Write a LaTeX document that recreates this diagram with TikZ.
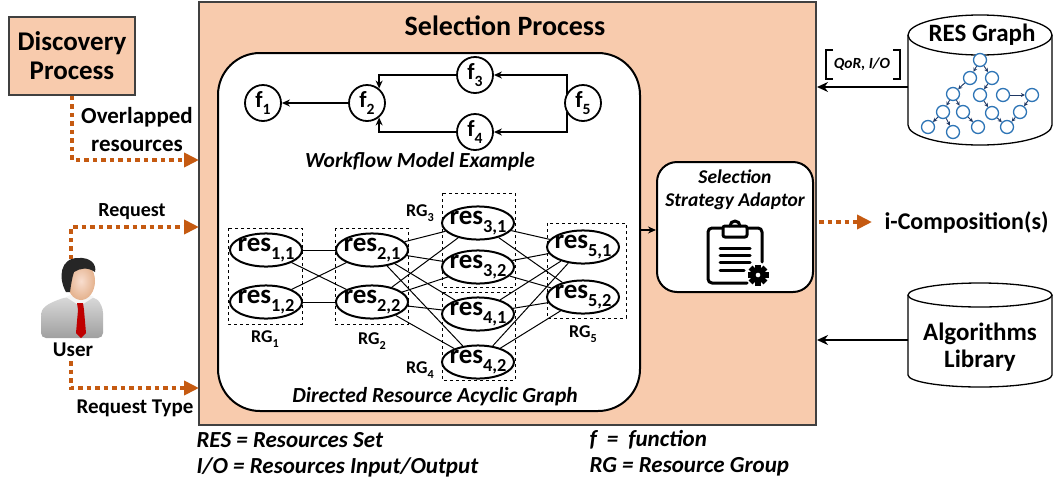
\documentclass[tikz,border=0pt]{standalone}
\usepackage{fontspec}
\setmainfont{Carlito}
\usetikzlibrary{arrows.meta,shapes.geometric}
\definecolor{peach}{HTML}{F8CBAD}
\definecolor{rust}{HTML}{C55A11}
\definecolor{boxline}{HTML}{404040}
\definecolor{netblue}{HTML}{2E75B6}
\definecolor{netdark}{HTML}{1F3864}
\definecolor{skin}{HTML}{F4C7AE}
\pgfdeclarelayer{bg}
\pgfdeclarelayer{mid}
\pgfsetlayers{bg,mid,main}
\def\fsz#1{\fontsize{#1}{#1}\selectfont}
\def\rsub#1{\raisebox{-0.28em}{\scalebox{0.68}{#1}}}
\def\restxt#1{\makebox[30pt]{res\rsub{#1}}}
\tikzset{
  dotarrow/.style={rust, line width=4pt, dash pattern=on 4.5pt off 4pt, -{Triangle[length=15pt,width=14pt]}},
  flow/.style={line width=1.8pt, -{Stealth[length=8pt,width=7pt]}},
  feed/.style={line width=2.6pt, -{Stealth[length=11pt,width=10pt]}},
  fnode/.style={circle, draw, line width=1.8pt, fill=white, minimum size=36pt, inner sep=0pt, font=\fsz{23}\bfseries},
  resnode/.style={ellipse, draw, line width=2pt, fill=white, minimum width=72pt, minimum height=32pt, inner sep=0pt, font=\fsz{27}\bfseries},
  rgbox/.style={draw, dashed, line width=0.9pt},
  rglabel/.style={font=\fsz{18}\bfseries},
  link/.style={line width=1pt},
  netnode/.style={circle, draw=netblue, line width=1.3pt, fill=white, minimum size=13pt, inner sep=0pt},
  netlink/.style={netdark, line width=0.9pt, -{Stealth[length=4pt,width=4pt]}},
  icon/.style={line width=3pt, line cap=round, line join=round},
  bigtext/.style={font=\fsz{25}\bfseries, align=center},
  caption/.style={font=\fsz{21.5}\bfseries\itshape},
  legend/.style={anchor=west, font=\fsz{23}\bfseries\itshape},
}

\begin{document}
\begin{tikzpicture}[x=1pt,y=-1pt]
	%%%%% START %%%%%
	\useasboundingbox (0,0) rectangle (1054,488);
	
	% selection process block
	\begin{pgfonlayer}{bg}
	\draw[fill=peach, draw=boxline, line width=1.5pt] (199,2) rectangle (816,425);
	\draw[fill=white, line width=2pt, rounded corners=42pt] (218,53) rectangle (640,411);
	\end{pgfonlayer}
	\node[bigtext, font=\fsz{28}\bfseries] (title) at (505,26) {Selection Process};
	
	% workflow model
	\node[fnode] (f1) at (263,103) {f\rsub{1}};
	\node[fnode] (f2) at (367,103) {f\rsub{2}};
	\node[fnode] (f3) at (475,75) {f\rsub{3}};
	\node[fnode] (f4) at (475,132) {f\rsub{4}};
	\node[fnode] (f5) at (583,103) {f\rsub{5}};
	\draw[flow] (f2) -- (f1);
	\draw[flow] (f5.150) |- (f3);
	\draw[flow] (f5.210) |- (f4);
	\draw[flow] (f3) -| (f2.50);
	\draw[flow] (f4) -| (f2.-50);
	\node[caption] (wfcap) at (420,162) {Workflow Model Example};
	
	% resource groups
	\draw[rgbox] (228,228) rectangle (302,324);
	\draw[rgbox] (335,228) rectangle (408,324);
	\draw[rgbox] (442,193) rectangle (515,287);
	\draw[rgbox] (442,292) rectangle (515,380);
	\draw[rgbox] (547,223) rectangle (626,318);
	\node[rglabel] (g1) at (265,339) {RG\rsub{1}};
	\node[rglabel] (g2) at (372,341) {RG\rsub{2}};
	\node[rglabel] (g3) at (420,213) {RG\rsub{3}};
	\node[rglabel] (g4) at (420,370) {RG\rsub{4}};
	\node[rglabel] (g5) at (583,334) {RG\rsub{5}};
	
	\node[resnode] (r11) at (266,250) {\restxt{1,1}};
	\node[resnode] (r12) at (266,302) {\restxt{1,2}};
	\node[resnode] (r21) at (372,250) {\restxt{2,1}};
	\node[resnode] (r22) at (372,302) {\restxt{2,2}};
	\node[resnode] (r31) at (478,223) {\restxt{3,1}};
	\node[resnode] (r32) at (478,267) {\restxt{3,2}};
	\node[resnode] (r41) at (478,314) {\restxt{4,1}};
	\node[resnode] (r42) at (478,362) {\restxt{4,2}};
	\node[resnode] (r51) at (583,247) {\restxt{5,1}};
	\node[resnode] (r52) at (583,297) {\restxt{5,2}};
	% resource links, kept under the ellipses
	\begin{pgfonlayer}{mid}
	\foreach \a in {11,12} \foreach \b in {21,22}
		\draw[link] (r\a) -- (r\b);
	\foreach \a in {21,22} \foreach \b in {31,32,41,42}
		\draw[link] (r\a) -- (r\b);
	\foreach \a in {31,32,41,42} \foreach \b in {51,52}
		\draw[link] (r\a) -- (r\b);
	\end{pgfonlayer}
	\node[caption] (dagcap) at (435,397) {Directed Resource Acyclic Graph};
	
	% adaptor
	\node[draw, fill=white, line width=2pt, rounded corners=20pt, minimum width=156pt, minimum height=130pt] (adapt) at (735,227) {};
	\node[font=\fsz{19.5}\bfseries\itshape, align=center] (adlab) at (735,190) {Selection\\[3pt]Strategy Adaptor};
	\coordinate (dagout) at (640,230);
	\draw[flow, line width=1.5pt] (dagout) -- (dagout -| adapt.west);
	% clipboard with gear
	\draw[icon, rounded corners=4pt] (747,228) -- (762,228) -- (762,262);
	\draw[icon, rounded corners=4pt] (723,228) -- (708,228) -- (708,283) -- (747,283);
	\draw[icon, fill=white, rounded corners=2pt] (723,237) rectangle (747,226);
	\draw[icon] (730,226) arc (180:0:5pt);
	\foreach \y in {248,255,262} \draw[icon] (720,\y) -- (750,\y);
	\draw[icon] (720,270) -- (744,270);
	\fill (758,275) circle (6.5pt);
	\foreach \a in {0,45,...,315}
		\fill[rotate around={\a:(758,275)}] (755.3,264.5) rectangle (760.7,270);
	\fill[white] (758,275) circle (2.3pt);
	
	% discovery process and inputs
	\node[draw=boxline, fill=peach, line width=1.5pt, minimum width=126pt, minimum height=78pt, bigtext, font=\fsz{27}\bfseries] (disc) at (72,56) {Discovery\\[2pt]Process};
	\coordinate (ovlend) at (199,160);
	\draw[dotarrow] (disc.south) |- (ovlend);
	\node[font=\fsz{23}\bfseries, align=center] (ovllab) at (137,130) {Overlapped\\[5pt]resources};
	
	% user
	\shade[top color=gray!30, bottom color=gray!75, rounded corners=5pt] (41,338) -- (41,318) .. controls (42,306) and (52,302) .. (66,297) -- (94,297) .. controls (100,302) and (103,308) .. (103,318) -- (103,338) -- cycle;
	\fill[skin!80!brown] (74,290) rectangle (87,302);
	\fill[gray!8] (66,297) -- (80,306) -- (94,297) -- (88,294) -- (80,300) -- (72,294) -- cycle;
	\fill[red!75!black] (77,303) -- (83,303) -- (84,310) -- (86,333) -- (81,338) -- (76,333) -- (78,310) -- cycle;
	\shade[inner color=skin!60, outer color=skin!70!brown] (81,281) ellipse (14pt and 19pt);
	\fill[black!85] (66,292) .. controls (58,278) and (60,258) .. (78,258) .. controls (90,257) and (97,264) .. (95,272) .. controls (88,267) and (80,268) .. (74,272) .. controls (72,278) and (71,285) .. (70,292) -- cycle;
	\node[font=\fsz{21}\bfseries] (userlab) at (73,350) {User};
	\coordinate (usertop) at (71,259);
	\coordinate (userbot) at (71,361);
	\coordinate (reqend) at (199,227);
	\coordinate (rtend) at (199,388);
	\draw[dotarrow] (usertop) |- (reqend);
	\draw[dotarrow] (userbot) |- (rtend);
	\node[font=\fsz{20}\bfseries] (reqlab) at (132,212) {Request};
	\node[font=\fsz{21}\bfseries] (rtlab) at (135,408) {Request Type};
	
	% output
	\coordinate (outstart) at (819,222);
	\coordinate (outend) at (872,222);
	\draw[dotarrow] (outstart) -- (outend);
	\node[anchor=west, font=\fsz{24}\bfseries] (icomp) at (881,222) {i-Composition(s)};
	
	% RES graph store
	\draw[line width=1.3pt, fill=white] (908,35) -- (908,125) arc (180:360:72pt and 20pt) -- (1052,35);
	\draw[line width=1.3pt, fill=white] (980,35) ellipse (72pt and 20pt);
	\node[font=\fsz{25}\bfseries] (reslab) at (982,35) {RES Graph};
	\foreach \n/\x/\y in {a/980/60, b/970/78, c/992/78, d/953/94, e/980/95, f/1003/95, g/1032/95, h/943/112, i/963/112, j/992/113, k/1020/112, l/928/127, m/953/132, n/978/127, o/1007/127}
		\node[netnode] (n\n) at (\x,\y) {};
	\foreach \s/\t in {a/b, a/c, b/d, c/e, d/h, d/i, h/l, h/m, i/n, e/j, j/o, f/g, g/k, k/o}
		\draw[netlink] (n\s) -- (n\t);
	\coordinate (dbout) at (908,87);
	\coordinate (dbin) at (817,87);
	\draw[feed] (dbout) -- (dbin);
	\node[font=\fsz{15.5}\bfseries\itshape] (qor) at (862,64) {QoR, I/O};
	\draw[line width=1.5pt] (833,50) -- (826,50) -- (826,79) -- (833,79);
	\draw[line width=1.5pt] (893,50) -- (900,50) -- (900,79) -- (893,79);
	
	% algorithms library store
	\draw[line width=1.3pt, fill=white] (908,295) -- (908,375) arc (180:360:72pt and 12pt) -- (1052,295);
	\draw[line width=1.3pt, fill=white] (980,295) ellipse (72pt and 12pt);
	\node[bigtext, font=\fsz{25}\bfseries] (alglab) at (980,347) {Algorithms\\[2pt]Library};
	\coordinate (algout) at (908,340);
	\coordinate (algin) at (817,340);
	\draw[feed] (algout) -- (algin);
	
	% legend
	\node[legend] (leg1) at (193,440) {RES = Resources Set};
	\node[legend] (leg2) at (193,467) {I/O = Resources Input/Output};
	\node[legend] (leg3) at (586,440) {f\hspace{10pt}=\hspace{10pt}function};
	\node[legend] (leg4) at (586,467) {RG = Resource Group};
	%%%%% END %%%%%
\end{tikzpicture}
\end{document}
